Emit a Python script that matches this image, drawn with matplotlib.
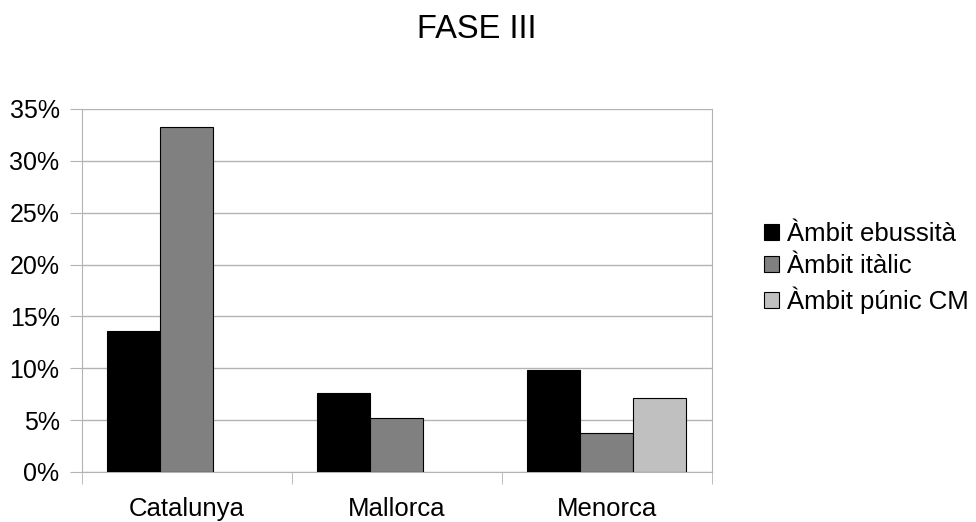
import numpy as np
import matplotlib.pyplot as plt
from matplotlib.patches import Patch

plt.rcParams['font.family'] = ['Liberation Sans', 'DejaVu Sans']

categories = ['Catalunya', 'Mallorca', 'Menorca']
series_names = ['Àmbit ebussità', 'Àmbit itàlic', 'Àmbit púnic CM']
ebussita = [13.6, 7.6, 9.8]
italic = [33.3, 5.2, 3.8]
punic = [0.0, 0.0, 7.1]
colors = ['#000000', '#808080', '#c0c0c0']

fig = plt.figure(figsize=(9.76, 5.22), dpi=100)
ax = fig.add_axes([0.0837, 0.0958, 0.6455, 0.6954])

x = np.arange(len(categories))
w = 0.253
for i, vals in enumerate([ebussita, italic, punic]):
    bars = ax.bar(x + (i - 1) * w, vals, w, color=colors[i], edgecolor='black',
                  linewidth=0.8, zorder=3)
    # empty bars draw nothing
    for b, v in zip(bars, vals):
        if v == 0:
            b.set_visible(False)

ax.set_xlim(-0.5, 2.5)
ax.set_ylim(0, 35)
ax.set_yticks(np.arange(0, 36, 5))
ax.set_yticklabels([f'{v}%' for v in range(0, 36, 5)])
ax.set_xticks(x)
ax.set_xticklabels(categories)
ax.set_xticks([-0.5, 0.5, 1.5, 2.5], minor=True)
ax.tick_params(axis='x', which='major', length=0, pad=18, labelsize=18.5)
ax.tick_params(axis='x', which='minor', length=8.4, color='#b3b3b3')
ax.tick_params(axis='y', length=8.4, color='#b3b3b3', labelsize=18, pad=7.5)
ax.yaxis.grid(True, color='#b3b3b3', linewidth=1, zorder=0)
for s in ax.spines.values():
    s.set_color('#b3b3b3')
ax.spines['top'].set_visible(False)

fig.text(0.488, 0.944, 'FASE III', ha='center', va='center', fontsize=23.5)

handles = [Patch(facecolor=c, edgecolor='black', linewidth=0.8) for c in colors]
ax.legend(handles, series_names, loc='center left', bbox_to_anchor=(1.083, 0.562),
          frameon=False, fontsize=18.5, handlelength=0.6, handleheight=0.6,
          handletextpad=0.3, labelspacing=0.33, borderaxespad=0, borderpad=0)

fig.savefig('out.png', dpi=100)
